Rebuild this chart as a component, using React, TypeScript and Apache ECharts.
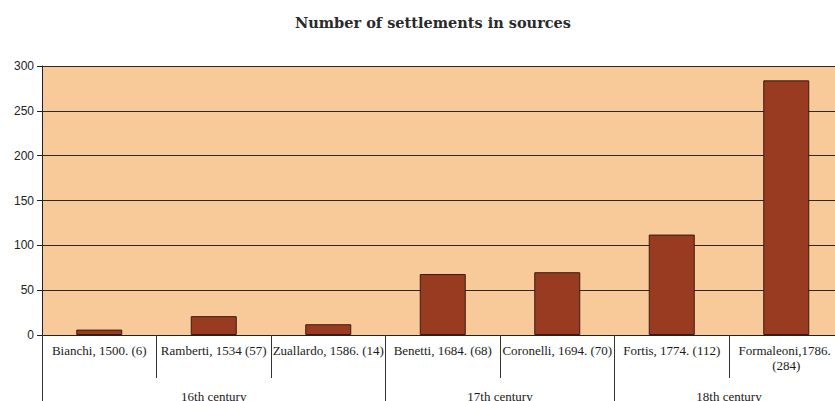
import React, { useEffect, useRef } from "react";
import * as echarts from "echarts";

const title = "Number of settlements in sources";
const categories = [
  "Bianchi, 1500. (6)",
  "Ramberti, 1534 (57)",
  "Zuallardo, 1586. (14)",
  "Benetti, 1684. (68)",
  "Coronelli, 1694. (70)",
  "Fortis, 1774. (112)",
  "Formaleoni,1786. (284)",
];
const values = [6, 21, 12, 68, 70, 112, 284];
const centuries = ["16th century", "17th century", "18th century"];
const centuryBoundaries = [0, 3, 5, 7];
const centuryCenters = [1.5, 4, 6];
const yTicks = [0, 50, 100, 150, 200, 250, 300];

export default function App() {
  const ref = useRef<HTMLDivElement>(null);
  useEffect(() => {
    if (!ref.current) return;
    const chart = echarts.init(ref.current, null, { renderer: "svg" });
    chart.setOption({
      animation: false,
      backgroundColor: "#ffffff",
      title: {
        text: title,
        left: 428,
        top: 10,
        textAlign: "center",
        textStyle: {
          fontFamily: "DejaVu Serif",
          fontWeight: "bold",
          fontSize: 14.5,
          color: "#2a2a2a",
        },
      },
      grid: {
        left: 42,
        top: 66,
        bottom: 66,
        width: 801.5,
        outerBoundsMode: "none",
        containLabel: false,
        show: true,
        backgroundColor: "#F8CA9A",
        borderWidth: 0,
      },
      xAxis: [
        {
          type: "category",
          data: categories,
          position: "bottom",
          axisLine: { show: true, lineStyle: { color: "#222", width: 1 } },
          axisTick: {
            show: true,
            interval: 0,
            length: 43,
            lineStyle: { color: "#333", width: 1 },
          },
          axisLabel: {
            interval: 0,
            margin: 8,
            width: 116,
            overflow: "break",
            lineHeight: 15,
            fontFamily: "Liberation Serif",
            fontSize: 13,
            color: "#1a1a1a",
          },
        },
        {
          type: "value",
          min: 0,
          max: 7,
          position: "bottom",
          splitLine: { show: false },
          axisLine: { show: false },
          axisTick: {
            show: true,
            customValues: centuryBoundaries,
            length: 80,
            lineStyle: { color: "#333", width: 1 },
          },
          axisLabel: {
            show: true,
            customValues: centuryCenters,
            margin: 55,
            fontFamily: "Liberation Serif",
            fontSize: 13,
            color: "#1a1a1a",
            formatter: (v: number) => centuries[centuryCenters.indexOf(v)] ?? "",
          },
        },
      ],
      yAxis: {
        type: "value",
        min: yTicks[0],
        max: yTicks[yTicks.length - 1],
        interval: 50,
        axisLine: { show: true, lineStyle: { color: "#222", width: 1 } },
        axisTick: { show: true, length: 5, lineStyle: { color: "#222" } },
        axisLabel: {
          margin: 8,
          fontFamily: "Liberation Sans",
          fontSize: 12,
          color: "#222",
        },
        splitLine: { show: true, lineStyle: { color: "#2a2a2a", width: 1 } },
      },
      series: [
        {
          type: "bar",
          xAxisIndex: 0,
          data: values,
          barWidth: 46,
          itemStyle: {
            color: "#993B20",
            borderColor: "#3a1a10",
            borderWidth: 1,
          },
        },
      ],
    });
    return () => chart.dispose();
  }, []);
  return (
    <div
      ref={ref}
      style={{ position: "fixed", left: 0, top: 0, width: 835, height: 401 }}
    />
  );
}
